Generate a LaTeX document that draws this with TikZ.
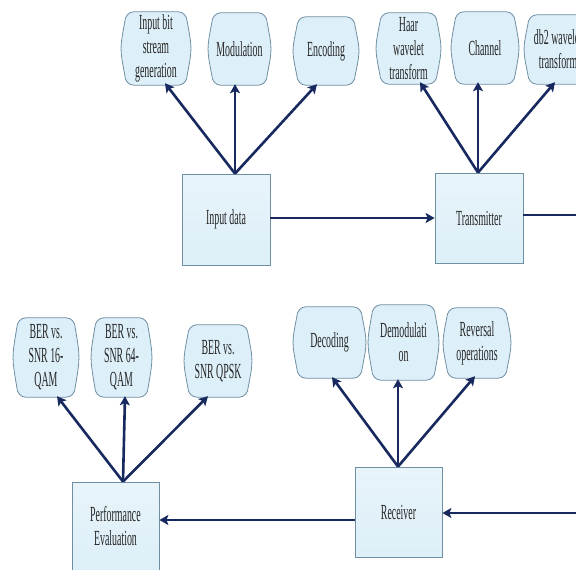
\documentclass[tikz,border=0pt]{standalone}
\usepackage{fontspec}
\setmainfont[FakeStretch=0.46]{Liberation Serif}
\usetikzlibrary{arrows.meta,backgrounds}
\definecolor{arrowc}{HTML}{17295F}
\definecolor{boxfill}{HTML}{DDEFF8}
\definecolor{boxfilltop}{HTML}{E8F4FA}
\definecolor{boxline}{HTML}{6F8FA3}
\definecolor{txtc}{HTML}{262626}
\tikzset{
  txtnode/.style={rectangle, inner sep=0pt, align=center, text=txtc,
    font=\fontsize{21.5}{24}\selectfont},
  barrel/.style={draw=boxline, line width=0.8pt, fill=boxfill},
  sqbox/.style={txtnode, draw=boxline, line width=0.8pt, top color=boxfilltop, bottom color=boxfill},
  arr/.style={draw=arrowc, line width=2.6pt, -{Stealth[length=9pt,width=10pt,inset=2pt]}},
  lin/.style={draw=arrowc, line width=2.6pt},
}
\newcommand\barrelbox[5]{%
  \node[txtnode, minimum width=#3, minimum height=#4] (#1) at (#2) {#5};
  \begin{scope}[on background layer]
  \path[barrel] ([xshift=9pt]#1.north west) -- ([xshift=-9pt]#1.north east)
    to[out=0,in=90] ([yshift=-10pt]#1.north east)
    .. controls ([xshift=5pt]#1.east) .. ([yshift=10pt]#1.south east)
    to[out=-90,in=0] ([xshift=-9pt]#1.south east)
    -- ([xshift=9pt]#1.south west)
    to[out=180,in=-90] ([yshift=10pt]#1.south west)
    .. controls ([xshift=-5pt]#1.west) .. ([yshift=-10pt]#1.north west)
    to[out=90,in=180] cycle;
  \end{scope}}
\begin{document}
\begin{tikzpicture}[x=1pt,y=-1pt]
\useasboundingbox (0,0) rectangle (576,570);
\clip (0,0) rectangle (576,570);
% top row
\barrelbox{ibs}{156,48.5}{62pt}{73pt}{Input bit\\stream\\generation}
\barrelbox{mod}{239.5,49}{55pt}{72pt}{Modulation}
\barrelbox{enc}{326,51}{58pt}{68pt}{Encoding}
\barrelbox{haar}{408.5,48.5}{57pt}{71pt}{Haar\\wavelet\\transform}
\barrelbox{chan}{485,48}{60pt}{72pt}{Channel}
\barrelbox{dbtwo}{558,49.5}{60pt}{69pt}{db2 wavelet\\transform}
\node[sqbox, minimum width=88pt, minimum height=91pt] (indata) at (226,219.5) {Input data};
\node[sqbox, minimum width=88pt, minimum height=90pt] (trans) at (479,218) {Transmitter};
% bottom row
\barrelbox{qsix}{46,357.5}{58pt}{79pt}{BER vs.\\SNR 16-\\QAM}
\barrelbox{qsixf}{121.5,357.5}{53pt}{79pt}{BER vs.\\SNR 64-\\QAM}
\barrelbox{qpsk}{218,361}{60pt}{72pt}{BER vs.\\SNR QPSK}
\barrelbox{dec}{329.5,342.5}{65pt}{71pt}{Decoding}
\barrelbox{demod}{403.5,342.5}{63pt}{75pt}{Demodulati\\on}
\barrelbox{rev}{477,343}{60pt}{70pt}{Reversal\\operations}
\node[sqbox, minimum width=87pt, minimum height=88pt] (perf) at (115.5,526) {Performance\\Evaluation};
\node[sqbox, minimum width=87pt, minimum height=90pt] (recv) at (398.5,512) {Receiver};
% vertices
\coordinate (vin) at ([xshift=9pt]indata.north);
\coordinate (vtr) at ([xshift=-1pt]trans.north);
\coordinate (vpf) at ([xshift=7.5pt]perf.north);
\coordinate (vrc) at ([xshift=-0.5pt]recv.north);
\coordinate (outr) at (590,215);
\coordinate (inr) at (590,513);
% upward arrows
\draw[arr] (vin) -- ([xshift=9pt,yshift=2pt]ibs.south);
\draw[arr] (vin) -- ([xshift=-4.5pt,yshift=1pt]mod.south);
\draw[arr] (vin) -- ([xshift=-9pt,yshift=1pt]enc.south);
\draw[arr] (vtr) -- ([xshift=11.5pt,yshift=2pt]haar.south);
\draw[arr] (vtr) -- ([xshift=-7pt,yshift=2pt]chan.south);
\draw[arr] (vtr) -- ([xshift=-3pt,yshift=2pt]dbtwo.south);
\draw[arr] (vpf) -- ([xshift=11pt,yshift=1pt]qsix.south);
\draw[arr] (vpf) -- ([xshift=3.5pt,yshift=1pt]qsixf.south);
\draw[arr] (vpf) -- ([xshift=-10pt,yshift=1pt]qpsk.south);
\draw[arr] (vrc) -- ([xshift=2.5pt,yshift=1pt]dec.south);
\draw[arr] (vrc) -- ([xshift=-5.5pt,yshift=1pt]demod.south);
\draw[arr] (vrc) -- ([xshift=-2pt,yshift=2pt]rev.south);
% horizontal connectors
\draw[arr] ([yshift=1.5pt]indata.east) -- (trans.west);
\draw[lin] ([yshift=3pt]trans.east) -- (outr);
\draw[arr] (inr) -- ([yshift=-1pt]recv.east);
\draw[arr] ([yshift=-8pt]recv.west) -- ([yshift=6pt]perf.east);
\end{tikzpicture}
\end{document}
